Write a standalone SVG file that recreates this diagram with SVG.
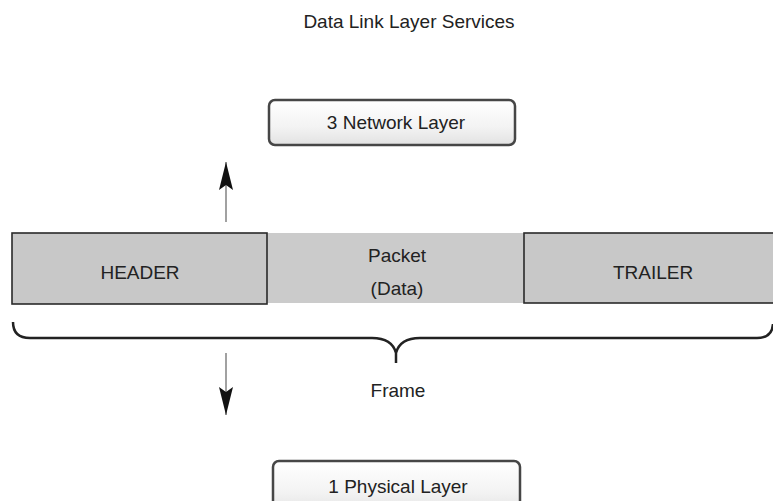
<svg xmlns="http://www.w3.org/2000/svg" width="773" height="501" viewBox="0 0 773 501">
<defs>
<linearGradient id="boxGrad" x1="0" y1="0" x2="0" y2="1">
<stop offset="0" stop-color="#ffffff"/>
<stop offset="0.6" stop-color="#f3f3f3"/>
<stop offset="1" stop-color="#e2e2e2"/>
</linearGradient>
<marker id="arrowHead" viewBox="0 0 30 16" refX="29" refY="8" markerWidth="30" markerHeight="16" markerUnits="userSpaceOnUse" orient="auto">
<path d="M29,8 L1,1 L6,8 L1,15 Z" fill="#111"/>
</marker>
</defs>
<style>
text{font-family:"Liberation Sans",Arial,sans-serif;font-size:19px;fill:#222;text-anchor:middle}
.layer{fill:url(#boxGrad);stroke:#464646;stroke-width:2.5}
.field{fill:#c8c8c8;stroke:#2a2a2a;stroke-width:1.6}
.shaft{stroke:#8a8a8a;stroke-width:1.6;fill:none}
.brace{fill:none;stroke:#222;stroke-width:2.5}
</style>
<rect width="773" height="501" fill="#ffffff"/>
<g id="title"><text x="409" y="28">Data Link Layer Services</text></g>
<g id="network-layer">
<rect class="layer" x="269" y="100" width="246" height="45" rx="6"/>
<text x="396" y="129">3 Network Layer</text>
</g>
<g id="packet">
<rect x="267" y="233" width="257" height="70" fill="#cbcbcb"/>
<text x="397" y="262">Packet</text>
<text x="397" y="295">(Data)</text>
</g>
<g id="header">
<rect class="field" x="12" y="233" width="255" height="71"/>
<text x="140" y="279">HEADER</text>
</g>
<g id="trailer">
<rect class="field" x="524" y="233" width="260" height="70"/>
<text x="653" y="279">TRAILER</text>
</g>
<g id="frame">
<path class="brace" d="M13,322 Q13,338 30,338 L372,338 Q392,338 396,353 L396,363 M396,353 Q400,338 420,338 L757,338 Q772,338 773,324"/>
<text x="398" y="397">Frame</text>
</g>
<g id="physical-layer">
<rect class="layer" x="273" y="461" width="247" height="52" rx="6"/>
<text x="398" y="493">1 Physical Layer</text>
</g>
<g id="connectors">
<line class="shaft" x1="226" y1="222" x2="226" y2="162" marker-end="url(#arrowHead)"/>
<line class="shaft" x1="226" y1="353" x2="226" y2="415" marker-end="url(#arrowHead)"/>
</g>
</svg>
